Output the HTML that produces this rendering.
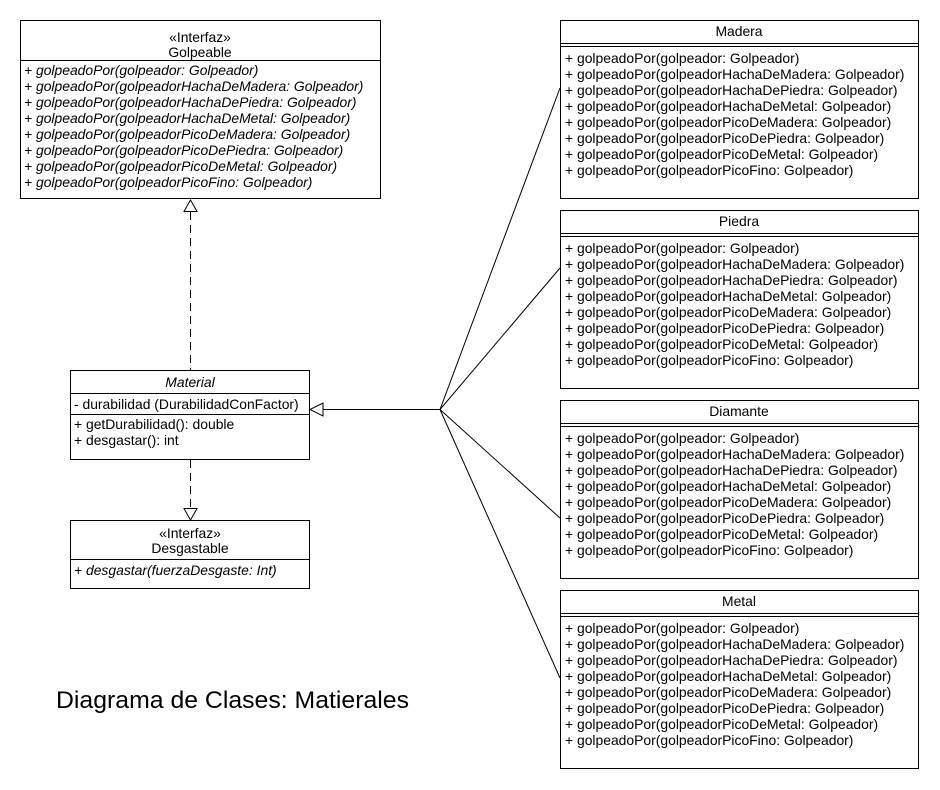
<!DOCTYPE html>
<html><head><meta charset="utf-8"><style>
html,body{margin:0;padding:0;background:#fff;}
svg{display:block;}
text{font-family:"Liberation Sans",Arial,sans-serif;font-size:13.9px;fill:#000;}
.i{font-style:italic;}
</style></head><body>
<svg width="940" height="790" viewBox="0 0 940 790" xmlns="http://www.w3.org/2000/svg">
<g fill="#fff" stroke="#000" stroke-width="1">
<rect x="20.5" y="20.5" width="360" height="178"/>
<line x1="20" y1="60.5" x2="380" y2="60.5"/>
<rect x="70.5" y="370.5" width="239" height="89"/>
<line x1="70" y1="393.5" x2="309" y2="393.5"/>
<line x1="70" y1="414.5" x2="309" y2="414.5"/>
<rect x="70.5" y="520.5" width="239" height="68"/>
<line x1="70" y1="559.5" x2="309" y2="559.5"/>
<rect x="560.5" y="20.5" width="358" height="178"/>
<line x1="560" y1="43.5" x2="918" y2="43.5"/><line x1="560" y1="46.5" x2="918" y2="46.5"/>
<rect x="560.5" y="210.5" width="358" height="178"/>
<line x1="560" y1="233.5" x2="918" y2="233.5"/><line x1="560" y1="236.5" x2="918" y2="236.5"/>
<rect x="560.5" y="400.5" width="358" height="178"/>
<line x1="560" y1="423.5" x2="918" y2="423.5"/><line x1="560" y1="426.5" x2="918" y2="426.5"/>
<rect x="560.5" y="590.5" width="358" height="178"/>
<line x1="560" y1="613.5" x2="918" y2="613.5"/><line x1="560" y1="616.5" x2="918" y2="616.5"/>
</g>
<g fill="none" stroke="#000" stroke-width="1">
<line x1="190.5" y1="212" x2="190.5" y2="370" stroke-dasharray="8,5"/>
<polygon points="190.5,200 184,211.5 197,211.5" fill="#fff"/>
<line x1="190.5" y1="460" x2="190.5" y2="508" stroke-dasharray="8,5"/>
<polygon points="190.5,520 184,508.5 197,508.5" fill="#fff"/>
<line x1="323" y1="409.5" x2="440" y2="409.5"/>
<polygon points="310,409.5 323,403 323,416" fill="#fff"/>
<line x1="440" y1="409.5" x2="560" y2="88"/>
<line x1="440" y1="409.5" x2="560" y2="268"/>
<line x1="440" y1="409.5" x2="560" y2="518"/>
<line x1="440" y1="409.5" x2="560" y2="678"/>
</g>
<text x="200" y="42" text-anchor="middle">«Interfaz»</text>
<text x="200" y="57" text-anchor="middle">Golpeable</text>
<text x="24" y="75" class="i">+ golpeadoPor(golpeador: Golpeador)</text>
<text x="24" y="91" class="i">+ golpeadoPor(golpeadorHachaDeMadera: Golpeador)</text>
<text x="24" y="107" class="i">+ golpeadoPor(golpeadorHachaDePiedra: Golpeador)</text>
<text x="24" y="123" class="i">+ golpeadoPor(golpeadorHachaDeMetal: Golpeador)</text>
<text x="24" y="139" class="i">+ golpeadoPor(golpeadorPicoDeMadera: Golpeador)</text>
<text x="24" y="155" class="i">+ golpeadoPor(golpeadorPicoDePiedra: Golpeador)</text>
<text x="24" y="171" class="i">+ golpeadoPor(golpeadorPicoDeMetal: Golpeador)</text>
<text x="24" y="187" class="i">+ golpeadoPor(golpeadorPicoFino: Golpeador)</text>
<text x="190" y="387" text-anchor="middle" class="i">Material</text>
<text x="74" y="409">- durabilidad (DurabilidadConFactor)</text>
<text x="74" y="429">+ getDurabilidad(): double</text>
<text x="74" y="445">+ desgastar(): int</text>
<text x="190" y="538" text-anchor="middle">«Interfaz»</text>
<text x="190" y="553" text-anchor="middle">Desgastable</text>
<text x="74" y="575" class="i">+ desgastar(fuerzaDesgaste: Int)</text>
<g>
<text x="739" y="36" text-anchor="middle">Madera</text>
<text x="565" y="63">+ golpeadoPor(golpeador: Golpeador)</text>
<text x="565" y="79">+ golpeadoPor(golpeadorHachaDeMadera: Golpeador)</text>
<text x="565" y="95">+ golpeadoPor(golpeadorHachaDePiedra: Golpeador)</text>
<text x="565" y="111">+ golpeadoPor(golpeadorHachaDeMetal: Golpeador)</text>
<text x="565" y="127">+ golpeadoPor(golpeadorPicoDeMadera: Golpeador)</text>
<text x="565" y="143">+ golpeadoPor(golpeadorPicoDePiedra: Golpeador)</text>
<text x="565" y="159">+ golpeadoPor(golpeadorPicoDeMetal: Golpeador)</text>
<text x="565" y="175">+ golpeadoPor(golpeadorPicoFino: Golpeador)</text>
</g>
<g transform="translate(0,190)">
<text x="739" y="36" text-anchor="middle">Piedra</text>
<text x="565" y="63">+ golpeadoPor(golpeador: Golpeador)</text>
<text x="565" y="79">+ golpeadoPor(golpeadorHachaDeMadera: Golpeador)</text>
<text x="565" y="95">+ golpeadoPor(golpeadorHachaDePiedra: Golpeador)</text>
<text x="565" y="111">+ golpeadoPor(golpeadorHachaDeMetal: Golpeador)</text>
<text x="565" y="127">+ golpeadoPor(golpeadorPicoDeMadera: Golpeador)</text>
<text x="565" y="143">+ golpeadoPor(golpeadorPicoDePiedra: Golpeador)</text>
<text x="565" y="159">+ golpeadoPor(golpeadorPicoDeMetal: Golpeador)</text>
<text x="565" y="175">+ golpeadoPor(golpeadorPicoFino: Golpeador)</text>
</g>
<g transform="translate(0,380)">
<text x="739" y="36" text-anchor="middle">Diamante</text>
<text x="565" y="63">+ golpeadoPor(golpeador: Golpeador)</text>
<text x="565" y="79">+ golpeadoPor(golpeadorHachaDeMadera: Golpeador)</text>
<text x="565" y="95">+ golpeadoPor(golpeadorHachaDePiedra: Golpeador)</text>
<text x="565" y="111">+ golpeadoPor(golpeadorHachaDeMetal: Golpeador)</text>
<text x="565" y="127">+ golpeadoPor(golpeadorPicoDeMadera: Golpeador)</text>
<text x="565" y="143">+ golpeadoPor(golpeadorPicoDePiedra: Golpeador)</text>
<text x="565" y="159">+ golpeadoPor(golpeadorPicoDeMetal: Golpeador)</text>
<text x="565" y="175">+ golpeadoPor(golpeadorPicoFino: Golpeador)</text>
</g>
<g transform="translate(0,570)">
<text x="739" y="36" text-anchor="middle">Metal</text>
<text x="565" y="63">+ golpeadoPor(golpeador: Golpeador)</text>
<text x="565" y="79">+ golpeadoPor(golpeadorHachaDeMadera: Golpeador)</text>
<text x="565" y="95">+ golpeadoPor(golpeadorHachaDePiedra: Golpeador)</text>
<text x="565" y="111">+ golpeadoPor(golpeadorHachaDeMetal: Golpeador)</text>
<text x="565" y="127">+ golpeadoPor(golpeadorPicoDeMadera: Golpeador)</text>
<text x="565" y="143">+ golpeadoPor(golpeadorPicoDePiedra: Golpeador)</text>
<text x="565" y="159">+ golpeadoPor(golpeadorPicoDeMetal: Golpeador)</text>
<text x="565" y="175">+ golpeadoPor(golpeadorPicoFino: Golpeador)</text>
</g>
<text x="56" y="708" style="font-size:24px" textLength="353" lengthAdjust="spacingAndGlyphs">Diagrama de Clases: Matierales</text>
</svg>
</body></html>
